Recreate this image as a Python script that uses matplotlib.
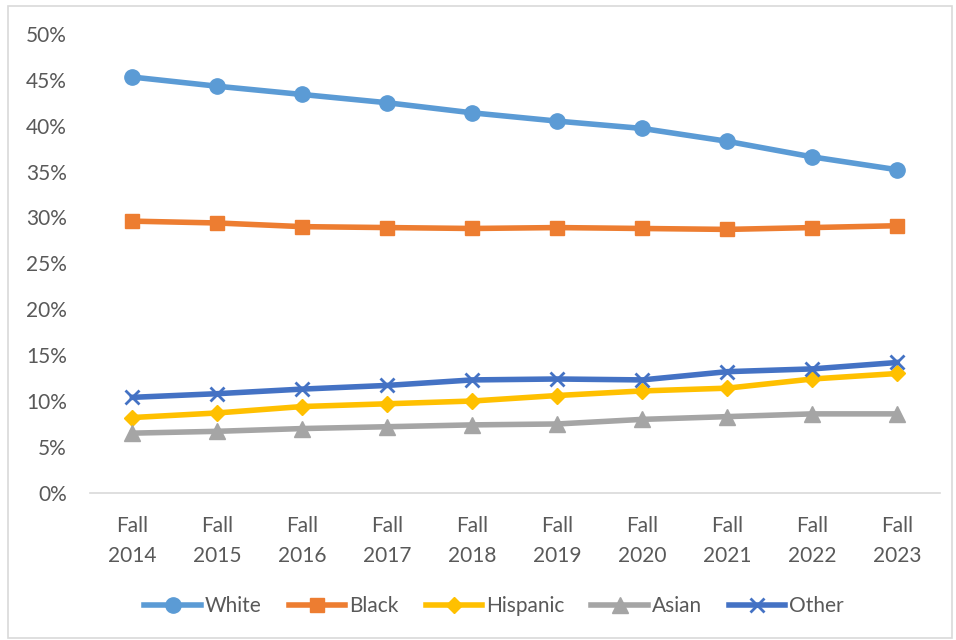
import matplotlib.pyplot as plt
from matplotlib.patches import Rectangle
from matplotlib.ticker import PercentFormatter

plt.rcParams['font.family'] = ['Lato', 'DejaVu Sans']

years = ['Fall\n2014', 'Fall\n2015', 'Fall\n2016', 'Fall\n2017', 'Fall\n2018',
         'Fall\n2019', 'Fall\n2020', 'Fall\n2021', 'Fall\n2022', 'Fall\n2023']

white = [45.3, 44.3, 43.4, 42.5, 41.4, 40.5, 39.7, 38.3, 36.6, 35.2]
black = [29.6, 29.4, 29.0, 28.9, 28.8, 28.9, 28.8, 28.7, 28.9, 29.1]
hispanic = [8.2, 8.7, 9.4, 9.7, 10.0, 10.6, 11.1, 11.4, 12.4, 13.0]
asian = [6.5, 6.7, 7.0, 7.2, 7.4, 7.5, 8.0, 8.3, 8.6, 8.6]
other = [10.4, 10.8, 11.3, 11.7, 12.3, 12.4, 12.3, 13.2, 13.5, 14.2]

series = [
    ('White', white, '#5B9BD5', 'o', 11),
    ('Black', black, '#ED7D31', 's', 10),
    ('Hispanic', hispanic, '#FFC000', 'D', 8.5),
    ('Asian', asian, '#A5A5A5', '^', 11),
    ('Other', other, '#4472C4', 'x', 10.5),
]

fig = plt.figure(figsize=(9.56, 6.4), dpi=100)
ax = fig.add_axes([0.094, 0.23, 0.889, 0.717])

x = range(len(years))
for name, vals, col, mk, ms in series:
    ax.plot(x, [v / 100 for v in vals], color=col, lw=4, marker=mk,
            markersize=ms, markeredgewidth=2 if mk == 'x' else 1,
            markeredgecolor=col, label=name)

ax.set_xlim(-0.5, len(years) - 0.5)
ax.set_ylim(0, 0.5)
ax.set_yticks([i * 0.05 for i in range(11)])
ax.yaxis.set_major_formatter(PercentFormatter(1.0, decimals=0))
ax.set_xticks(list(x))
ax.set_xticklabels(years, linespacing=1.6)
ax.tick_params(length=0, labelsize=15, labelcolor='#595959')
ax.tick_params(axis='x', pad=17)
ax.tick_params(axis='y', pad=16.5)

for side in ['top', 'right', 'left']:
    ax.spines[side].set_visible(False)
ax.spines['bottom'].set_color('#D9D9D9')
ax.spines['bottom'].set_linewidth(1.2)

leg = fig.legend(loc='center', bbox_to_anchor=(0.517, 0.053), ncol=5,
                 frameon=False, fontsize=15, handlelength=2.7,
                 handletextpad=0.2, columnspacing=1.3)
for t in leg.get_texts():
    t.set_color('#595959')

fig.patches.append(Rectangle((8 / 956, 2 / 640), 944 / 956, 632 / 640,
                             transform=fig.transFigure, fill=False,
                             edgecolor='#D9D9D9', lw=1.2))

fig.savefig('out.png', dpi=100)
